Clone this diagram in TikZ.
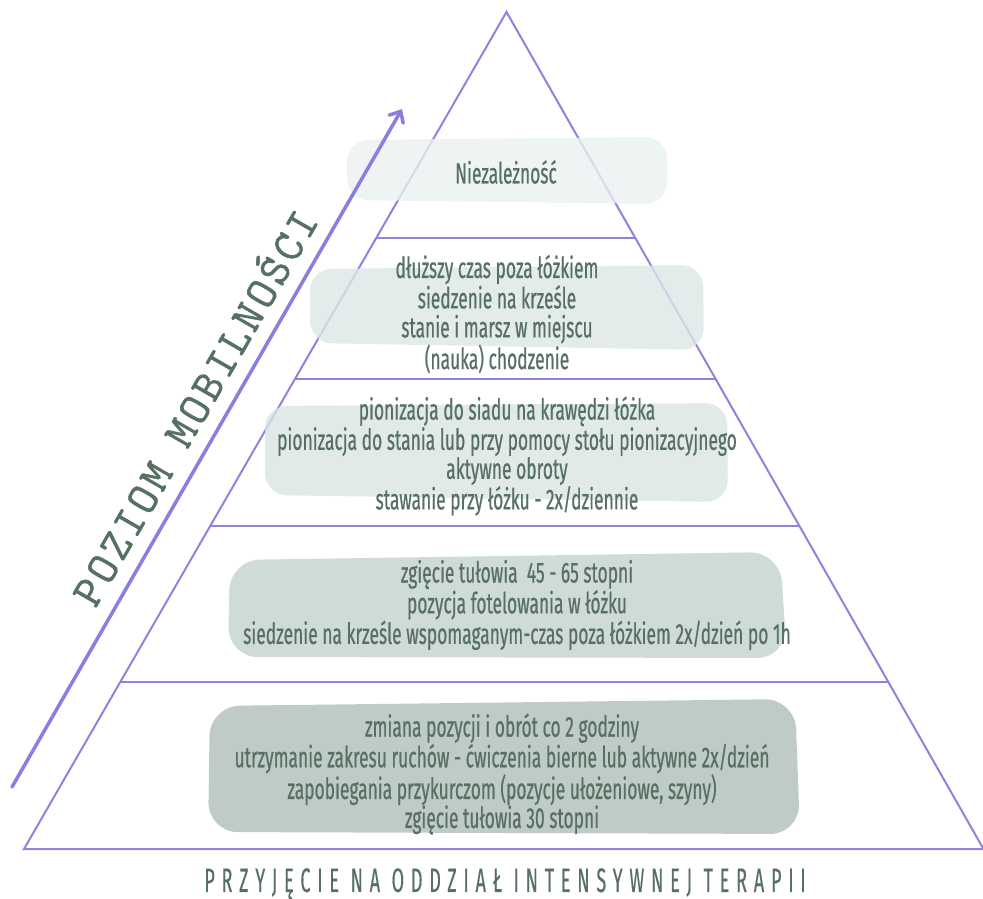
\documentclass[tikz,border=0pt]{standalone}
\usepackage{fontspec}
\usetikzlibrary{arrows.meta,calc}
\newfontfamily\bodyfont{Fira Sans}[FakeStretch=0.6,FakeBold=0.5]
\newfontfamily\capfont{Fira Sans}[FakeStretch=0.53,LetterSpace=20,FakeBold=0.3]
\newfontfamily\mobfont{Latin Modern Mono}[FakeBold=1.2,LetterSpace=8]
\definecolor{lineC}{RGB}{142,132,224}
\definecolor{arrowC}{RGB}{138,126,222}
\definecolor{txtC}{RGB}{86,112,99}
\definecolor{blobA}{RGB}{234,240,240}
\definecolor{blobB}{RGB}{220,231,231}
\definecolor{blobC}{RGB}{218,229,227}
\definecolor{blobD}{RGB}{195,211,206}
\definecolor{blobE}{RGB}{175,190,184}
\begin{document}
\begin{tikzpicture}[x=1pt,y=-1pt,
  tri/.style={draw=lineC,line width=2pt,line join=miter},
  level/.style={draw=lineC,line width=2pt},
  blob/.style={rounded corners=22pt,fill opacity=0.8,draw=none},
  bigblob/.style={rounded corners=30pt,fill opacity=0.8,draw=none},
  body/.style={text=txtC,align=center,inner sep=0pt,font={\bodyfont\fontsize{29}{29}\selectfont}},
  caption/.style={text=txtC,inner sep=0pt,font={\capfont\fontsize{34}{36}\selectfont}},
  mob/.style={text=txtC,inner sep=0pt,font={\mobfont\fontsize{45}{48}\selectfont}},
  upArrow/.style={draw=arrowC,line width=3.5pt,line cap=round,-{Straight Barb[length=9pt,width=16pt,line cap=round]}}]
\useasboundingbox (0,0) rectangle (983,899);
\fill[white] (0,0) rectangle (983,899);
% triangle
\coordinate (apex) at (506.5,12);
\coordinate (bl) at (24,849);
\coordinate (br) at (983.5,849);
\draw[tri] (bl) -- (apex) -- (br) -- cycle;
\foreach \t/\n in {0.2700/a,0.4385/b,0.6141/c,0.8005/d}{
  \coordinate (L\n) at ($(apex)!\t!(bl)$);
  \coordinate (R\n) at ($(apex)!\t!(br)$);
  \draw[level] (L\n) -- (R\n);
}
% blobs
\path[blob,fill=blobA] (347,140) -- (667,137) -- (667,204) -- (347,200) -- cycle;
\path[blob,fill=blobB] (310,269) -- (703,265) -- (704,350) -- (310,343) -- cycle;
\path[blob,fill=blobC] (265,406) -- (727,403) -- (728,502) -- (265,495) -- cycle;
\path[bigblob,fill=blobD] (230,560) -- (780,552) -- (787,658) -- (228,657) -- cycle;
\path[bigblob,fill=blobE] (210,706) -- (795,699) -- (800,834) -- (208,832) -- cycle;
% texts
\node[body] (t1) at (506,172) {Niezależność};
\node[body] (t2) at (497,314) {dłuższy czas poza łóżkiem\\siedzenie na krześle\\stanie i marsz w miejscu\\(nauka) chodzenie};
\node[body] (t3) at (507,456) {pionizacja do siadu na krawędzi łóżka\\pionizacja do stania lub przy pomocy stołu pionizacyjnego\\aktywne obroty\\stawanie przy łóżku - 2x/dziennie};
\node[body] (t4) at (517,605) {zgięcie tułowia\ \ 45 - 65 stopni\\pozycja fotelowania w łóżku\\siedzenie na krześle wspomaganym-czas poza łóżkiem 2x/dzień po 1h};
\node[body] (t5) at (502,774) {zmiana pozycji i obrót co 2 godziny\\utrzymanie zakresu ruchów - ćwiczenia bierne lub aktywne 2x/dzień\\zapobiegania przykurczom (pozycje ułożeniowe, szyny)\\zgięcie tułowia 30 stopni};
\node[caption] (cap) at (505,884) {PRZYJĘCIE NA ODDZIAŁ INTENSYWNEJ TERAPII};
% arrow and label
\coordinate (arrTail) at (12,787);
\coordinate (arrTip) at (402,109);
\draw[upArrow] (arrTail) -- (arrTip);
\node[mob,rotate=60] (mobl) at (192,406) {POZIOM MOBILNOŚCI};
\end{tikzpicture}
\end{document}
